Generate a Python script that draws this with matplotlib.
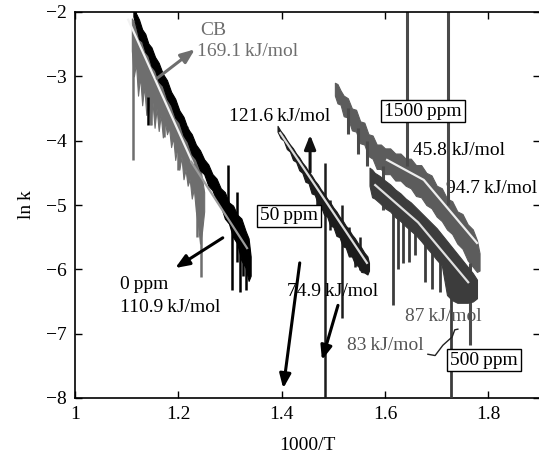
import matplotlib
matplotlib.use("Agg")
import matplotlib.pyplot as plt

plt.rcParams['font.family'] = ['Liberation Serif', 'DejaVu Serif']
plt.rcParams['axes.unicode_minus'] = True

# ---------------- data (1000/T, ln k) ----------------
# CB band (gray): upper / lower envelope of the noisy record
cb_x = [1.110, 1.114, 1.118, 1.122, 1.126, 1.130, 1.134, 1.138, 1.142, 1.146, 1.150, 1.154,
        1.158, 1.162, 1.166, 1.170, 1.174, 1.178, 1.182, 1.186, 1.190, 1.194, 1.198, 1.202,
        1.206, 1.210, 1.214, 1.218, 1.222, 1.226, 1.230, 1.234, 1.238, 1.242, 1.246, 1.250]
cb_hi = [-2.10, -2.15, -2.25, -2.35, -2.38, -2.50, -2.52, -2.62, -2.62, -2.75, -2.72, -2.85,
         -2.88, -2.95, -3.00, -3.10, -3.12, -3.22, -3.28, -3.34, -3.40, -3.50, -3.55, -3.62,
         -3.70, -3.72, -3.80, -3.78, -3.90, -4.05, -4.00, -4.20, -4.30, -4.40, -4.60, -4.80]
cb_lo = [-2.60, -3.00, -2.80, -3.30, -3.00, -3.45, -3.15, -3.60, -3.30, -3.75, -3.40, -3.80,
         -3.50, -3.85, -3.60, -3.95, -3.70, -3.90, -3.80, -4.10, -3.95, -4.30, -4.10, -4.45,
         -4.25, -4.60, -4.45, -4.70, -4.60, -4.90, -4.75, -5.10, -5.30, -5.60, -5.40, -5.10]
cb_spk_x = [1.112, 1.147, 1.172, 1.243, 1.237, 1.199]
cb_spk_lo = [-4.30, -3.76, -3.94, -6.12, -5.50, -4.45]
cb_spk_hi = [-2.30, -3.20, -3.50, -5.00, -4.80, -3.90]

# 0 ppm band (black)
p0_x = [1.113, 1.118, 1.124, 1.130, 1.136, 1.142, 1.148, 1.155, 1.162, 1.170, 1.178, 1.186,
        1.194, 1.202, 1.210, 1.218, 1.226, 1.234, 1.242, 1.250, 1.258, 1.266, 1.274, 1.282,
        1.290, 1.298, 1.306, 1.314, 1.322, 1.330, 1.336, 1.340]
p0_hi = [-1.83, -2.02, -2.12, -2.27, -2.34, -2.49, -2.55, -2.70, -2.79, -2.96, -3.06, -3.24,
         -3.35, -3.53, -3.63, -3.81, -3.90, -4.06, -4.15, -4.29, -4.37, -4.52, -4.59, -4.74,
         -4.80, -4.96, -5.01, -5.15, -5.21, -5.40, -5.52, -5.80]
p0_lo = [-2.07, -2.22, -2.42, -2.46, -2.62, -2.68, -2.84, -2.91, -3.08, -3.15, -3.35, -3.45,
         -3.64, -3.72, -3.92, -4.02, -4.21, -4.29, -4.46, -4.52, -4.70, -4.77, -4.94, -5.01,
         -5.21, -5.29, -5.50, -5.60, -5.86, -5.97, -6.18, -6.10]
p0_spk_x = [1.141, 1.296, 1.304, 1.314, 1.319, 1.326, 1.331, 1.337]
p0_spk_lo = [-3.76, -5.19, -6.32, -5.89, -6.35, -6.10, -6.32, -6.05]
p0_spk_hi = [-3.32, -4.38, -5.10, -4.80, -5.39, -5.40, -5.54, -5.70]

# 50 ppm band
p50_x = [1.392, 1.398, 1.404, 1.410, 1.416, 1.422, 1.428, 1.434, 1.440, 1.446, 1.452, 1.458,
         1.464, 1.470, 1.476, 1.482, 1.488, 1.494, 1.500, 1.506, 1.512, 1.518, 1.524, 1.530,
         1.536, 1.542, 1.548, 1.554, 1.560, 1.566, 1.569]
p50_hi = [-3.77, -3.85, -3.91, -3.99, -4.06, -4.12, -4.20, -4.26, -4.34, -4.40, -4.48, -4.54,
          -4.62, -4.68, -4.76, -4.82, -4.90, -4.96, -5.04, -5.10, -5.18, -5.24, -5.32, -5.38,
          -5.46, -5.52, -5.60, -5.66, -5.74, -5.80, -5.90]
p50_lo = [-3.86, -3.96, -4.00, -4.13, -4.17, -4.30, -4.33, -4.46, -4.50, -4.64, -4.66, -4.82,
          -4.84, -4.98, -5.02, -5.15, -5.18, -5.32, -5.34, -5.48, -5.50, -5.64, -5.66, -5.80,
          -5.80, -5.92, -5.95, -6.04, -6.05, -6.08, -6.02]
p50_spk_x = [1.484, 1.517, 1.4935, 1.531, 1.542, 1.5516, 1.468]
p50_spk_lo = [-8.20, -6.75, -5.39, -5.75, -5.97, -6.01, -5.10]
p50_spk_hi = [-4.35, -5.00, -4.92, -5.34, -5.60, -5.50, -4.70]

# 1500 ppm band
p1500_x = [1.503, 1.508, 1.514, 1.520, 1.528, 1.536, 1.544, 1.552, 1.560, 1.568, 1.576, 1.584,
           1.592, 1.600, 1.610, 1.620, 1.630, 1.640, 1.650, 1.660, 1.670, 1.680, 1.690, 1.700,
           1.710, 1.720, 1.730, 1.740, 1.750, 1.760, 1.770, 1.778, 1.783]
p1500_hi = [-3.10, -3.12, -3.22, -3.30, -3.34, -3.50, -3.52, -3.70, -3.72, -3.90, -3.92, -4.06,
            -4.06, -4.12, -4.12, -4.20, -4.20, -4.28, -4.28, -4.38, -4.38, -4.50, -4.54, -4.70,
            -4.74, -4.90, -4.94, -5.10, -5.14, -5.30, -5.38, -5.55, -5.75]
p1500_lo = [-3.30, -3.42, -3.44, -3.62, -3.64, -3.84, -3.86, -4.04, -4.06, -4.24, -4.28, -4.44,
            -4.44, -4.52, -4.52, -4.62, -4.62, -4.70, -4.74, -4.86, -4.88, -5.00, -5.05, -5.18,
            -5.25, -5.38, -5.45, -5.60, -5.68, -5.86, -5.96, -6.04, -6.02]
p1500_spk_x = [1.6425, 1.722, 1.764, 1.596, 1.528, 1.548, 1.566]
p1500_spk_lo = [-4.40, -5.00, -7.18, -5.08, -3.90, -4.20, -4.40]
p1500_spk_hi = [-1.80, -1.80, -5.90, -4.40, -3.50, -3.80, -4.00]

# 500 ppm band
p500_x = [1.570, 1.575, 1.580, 1.590, 1.600, 1.610, 1.620, 1.630, 1.640, 1.650, 1.660, 1.670,
          1.680, 1.690, 1.700, 1.710, 1.720, 1.730, 1.740, 1.750, 1.760, 1.770, 1.778]
p500_hi = [-4.42, -4.45, -4.50, -4.55, -4.62, -4.68, -4.76, -4.82, -4.90, -4.96, -5.04, -5.12,
           -5.20, -5.28, -5.36, -5.46, -5.56, -5.66, -5.76, -5.86, -5.96, -6.06, -6.16]
p500_lo = [-4.70, -4.88, -4.90, -4.97, -5.05, -5.10, -5.19, -5.25, -5.33, -5.40, -5.47, -5.56,
           -5.66, -5.75, -5.85, -5.94, -6.40, -6.48, -6.52, -6.52, -6.52, -6.50, -6.45]
p500_spk_x = [1.616, 1.625, 1.635, 1.6465, 1.658, 1.677, 1.691, 1.706, 1.728]
p500_spk_lo = [-6.55, -6.00, -5.90, -5.89, -5.78, -6.20, -6.30, -6.35, -8.20]
p500_spk_hi = [-4.95, -5.10, -5.16, -5.31, -5.39, -5.50, -5.60, -5.70, -5.90]

# Arrhenius fit lines
fit_cb_x, fit_cb_y = [1.103, 1.228], [-2.12, -4.35]
fit_0_x, fit_0_y = [1.225, 1.333], [-4.33, -5.67]
fit_50_x, fit_50_y = [1.397, 1.565], [-3.88, -5.90]
fit_1500_x, fit_1500_y = [1.604, 1.675, 1.778], [-4.30, -4.61, -5.59]
fit_500_x, fit_500_y = [1.581, 1.664, 1.761], [-4.69, -5.27, -6.20]

# bracket linking 83 / 87 kJ/mol labels
brace_x = [1.683, 1.697, 1.712, 1.730, 1.735, 1.741]
brace_y = [-7.32, -7.34, -7.18, -7.05, -6.94, -6.93]

xticks = [1.0, 1.2, 1.4, 1.6, 1.8]
xtick_labels = ['1', '1.2', '1.4', '1.6', '1.8']
yticks = [-8, -7, -6, -5, -4, -3, -2]

# ---------------- figure ----------------
fig = plt.figure(figsize=(5.39, 4.63), dpi=100)
ax = fig.add_axes([75/539, 65/463, 465/539, 386/463])

C_CB = '#6e6e6e'
C_0 = '#000000'
C_50 = '#1c1c1c'
C_500 = '#3c3c3c'
C_1500 = '#5c5c5c'

ax.fill_between(cb_x, cb_lo, cb_hi, color=C_CB, lw=0.8, zorder=2)
ax.vlines(cb_spk_x, cb_spk_lo, cb_spk_hi, color=C_CB, lw=1.8, zorder=2)

ax.fill_between(p0_x, p0_lo, p0_hi, color=C_0, lw=0.8, zorder=3)
ax.vlines(p0_spk_x, p0_spk_lo, p0_spk_hi, color=C_0, lw=1.8, zorder=3)

ax.fill_between(p50_x, p50_lo, p50_hi, color=C_50, lw=0.8, zorder=3)
ax.vlines(p50_spk_x, p50_spk_lo, p50_spk_hi, color=C_50, lw=1.8, zorder=3)

ax.fill_between(p1500_x, p1500_lo, p1500_hi, color=C_1500, lw=0.8, zorder=2)
ax.vlines(p1500_spk_x, p1500_spk_lo, p1500_spk_hi, color='#4a4a4a', lw=2.2, zorder=2)

ax.fill_between(p500_x, p500_lo, p500_hi, color=C_500, lw=0.8, zorder=3)
ax.vlines(p500_spk_x, p500_spk_lo, p500_spk_hi, color=C_500, lw=2.0, zorder=3)

ax.plot(fit_cb_x, fit_cb_y, color='#f2f2f2', lw=1.6, zorder=5)
ax.plot(fit_0_x, fit_0_y, color='#9c9c9c', lw=1.6, zorder=5)
ax.plot(fit_50_x, fit_50_y, color='#dcdcdc', lw=1.6, zorder=5)
ax.plot(fit_1500_x, fit_1500_y, color='#eeeeee', lw=1.6, zorder=5)
ax.plot(fit_500_x, fit_500_y, color='#e0e0e0', lw=1.6, zorder=5)
ax.plot(brace_x, brace_y, color='#222222', lw=1.0, zorder=5)

def arrow(x0, y0, x1, y1, color):
    ax.annotate('', xy=(x1, y1), xytext=(x0, y0),
                arrowprops=dict(arrowstyle='-|>,head_length=0.7,head_width=0.28',
                                color=color, lw=2.2, mutation_scale=12,
                                shrinkA=0, shrinkB=0), zorder=6)

arrow(1.159, -3.03, 1.232, -2.58, C_CB)
arrow(1.286, -5.51, 1.194, -5.98, 'black')
arrow(1.455, -4.49, 1.455, -3.91, '#111111')
arrow(1.435, -5.90, 1.403, -7.85, 'black')
arrow(1.509, -6.56, 1.478, -7.41, 'black')

fs = 14
box = dict(boxstyle='square,pad=0.15', fc='white', ec='black', lw=1.0)
ax.text(1.2419, -2.28, 'CB', color=C_CB, fontsize=fs, va='center', ha='left', zorder=7)
ax.text(1.236, -2.62, '169.1\u2009kJ/mol', color=C_CB, fontsize=fs, va='center', ha='left', zorder=7)
ax.text(1.298, -3.62, '121.6\u2009kJ/mol', color='black', fontsize=fs, va='center', ha='left', zorder=7)
ax.text(1.414, -5.17, '50\u2009ppm', fontsize=fs, va='center', ha='center', bbox=box, zorder=7)
ax.text(1.6735, -3.54, '1500\u2009ppm', fontsize=fs, va='center', ha='center', bbox=box, zorder=7)
ax.text(1.654, -4.15, '45.8 kJ/mol', fontsize=fs, va='center', ha='left', zorder=1)
ax.text(1.7175, -4.74, '94.7\u2009kJ/mol', fontsize=fs, va='center', ha='left', zorder=1)
ax.text(1.0871, -6.24, '0\u2009ppm', fontsize=fs, va='center', ha='left', zorder=7)
ax.text(1.0871, -6.59, '110.9\u2009kJ/mol', fontsize=fs, va='center', ha='left', zorder=7)
ax.text(1.4103, -6.35, '74.9\u2009kJ/mol', fontsize=fs, va='center', ha='left', zorder=7)
ax.text(1.6387, -6.73, '87\u2009kJ/mol', color='#555555', fontsize=fs, va='center', ha='left', zorder=7)
ax.text(1.5264, -7.18, '83\u2009kJ/mol', color='#555555', fontsize=fs, va='center', ha='left', zorder=7)
ax.text(1.7916, -7.41, '500\u2009ppm', fontsize=fs, va='center', ha='center', bbox=box, zorder=7)

ax.set_xlim(1.0, 1.9)
ax.set_ylim(-8, -2)
ax.set_xticks(xticks)
ax.set_xticklabels(xtick_labels)
ax.set_yticks(yticks)
ax.tick_params(direction='in', top=True, right=True, length=5, width=1.0, labelsize=fs, pad=6)
for s in ax.spines.values():
    s.set_linewidth(1.2)
ax.set_xlabel('1000/T', fontsize=fs, labelpad=10)
ax.set_ylabel('ln\u2009k', fontsize=fs, labelpad=8)

fig.savefig('out.png', dpi=100)
